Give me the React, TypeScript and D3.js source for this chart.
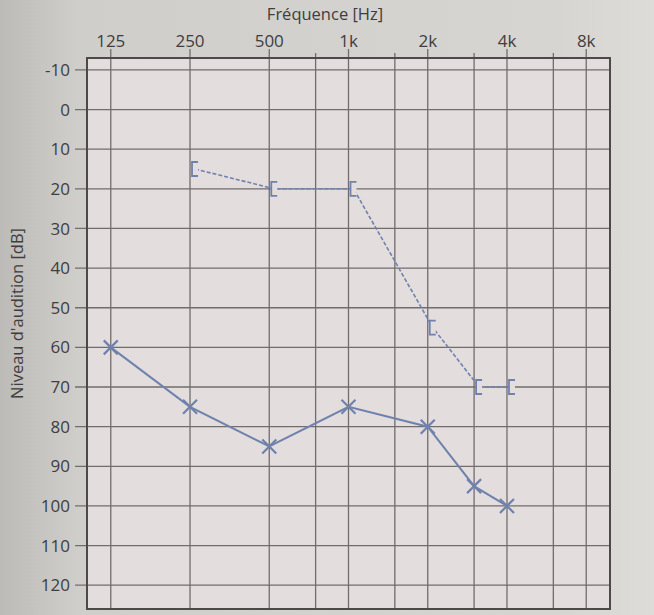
import React from "react";
import * as d3 from "d3";

// audiogram values
const airFreqs = [125, 250, 500, 1000, 2000, 3000, 4000];
const airLevels = [60, 75, 85, 75, 80, 95, 100];
const boneFreqs = [250, 500, 1000, 2000, 3000, 4000];
const boneLevels = [15, 20, 20, 55, 70, 70];

const labelFreqs = [125, 250, 500, 1000, 2000, 4000, 8000];
const labelText = ["125", "250", "500", "1k", "2k", "4k", "8k"];
const halfFreqs = [750, 1500, 3000, 6000];
const levelTicks = d3.range(-10, 121, 10);

const W = 654;
const H = 615;
const left = 87;
const right = 610;
const top = 58;
const bottom = 609;
const lineColor = "#6f82ad";
const gridColor = "#726d6d";
const textColor = "#3f3d3d";
const font = "'Open Sans', 'Noto Sans', sans-serif";

export default function App() {
  const x = d3
    .scaleLog()
    .base(2)
    .domain([125 / Math.pow(2, 0.3), 8000 * Math.pow(2, 0.3)])
    .range([left, right]);
  const y = d3.scaleLinear().domain([-13, 126]).range([top, bottom]);

  const air = airFreqs.map((f, i) => [x(f), y(airLevels[i])] as [number, number]);
  // bone symbols sit just right of the frequency line
  const bone = boneFreqs.map((f, i) => [x(f) + 5, y(boneLevels[i])] as [number, number]);
  const line = d3.line();

  return (
    <div style={{ position: "absolute", left: 0, top: 0 }}>
      <svg width={W} height={H} style={{ display: "block" }}>
        <defs>
          <linearGradient id="paper" x1="0" x2="1" y1="0" y2="0">
            <stop offset="0" stopColor="#bcbbb7" />
            <stop offset="0.12" stopColor="#cfcecb" />
            <stop offset="0.85" stopColor="#d6d5d2" />
            <stop offset="1" stopColor="#dedcd8" />
          </linearGradient>
        </defs>
        <rect width={W} height={H} fill="url(#paper)" />
        <rect x={left} y={top} width={right - left} height={bottom - top} fill="#e3dddd" />

        {/* horizontal grid */}
        {levelTicks.map((v) => (
          <g key={"h" + v}>
            <line x1={left - 12} x2={right} y1={y(v)} y2={y(v)} stroke={gridColor} strokeWidth={1.3} />
            <text
              x={left - 17}
              y={y(v)}
              dy="0.36em"
              textAnchor="end"
              fontSize={17}
              fontFamily={font}
              fill={textColor}
            >
              {v}
            </text>
          </g>
        ))}

        {/* vertical grid */}
        {labelFreqs.map((f, i) => (
          <g key={"v" + f}>
            <line x1={x(f)} x2={x(f)} y1={top - 9} y2={bottom} stroke={gridColor} strokeWidth={1.3} />
            <text x={x(f)} y={top - 11} textAnchor="middle" fontSize={17} fontFamily={font} fill={textColor}>
              {labelText[i]}
            </text>
          </g>
        ))}
        {halfFreqs.map((f) => (
          <line key={"hv" + f} x1={x(f)} x2={x(f)} y1={top - 5} y2={bottom} stroke={gridColor} strokeWidth={1.3} />
        ))}

        <rect
          x={left}
          y={top}
          width={right - left}
          height={bottom - top}
          fill="none"
          stroke="#4d4949"
          strokeWidth={2}
        />

        <text x={325} y={20} textAnchor="middle" fontSize={16.5} fontFamily={font} fill={textColor}>
          Fréquence [Hz]
        </text>
        <text
          transform={`translate(23,${(top + bottom) / 2 - 20}) rotate(-90)`}
          textAnchor="middle"
          fontSize={16.5}
          fontFamily={font}
          fill={textColor}
        >
          Niveau d'audition [dB]
        </text>

        {/* bone conduction, dashed with brackets */}
        <path d={line(bone) || ""} fill="none" stroke={lineColor} strokeWidth={1.6} strokeDasharray="4,2" />
        {bone.map(([bx, by], i) => (
          <path
            key={"b" + i}
            d={`M${bx + 3},${by - 7} H${bx - 3} V${by + 7} H${bx + 3}`}
            fill="#e3dddd"
            stroke={lineColor}
            strokeWidth={1.8}
          />
        ))}

        {/* air conduction, crosses */}
        <path d={line(air) || ""} fill="none" stroke={lineColor} strokeWidth={2} />
        {air.map(([ax, ay], i) => (
          <path
            key={"a" + i}
            d={`M${ax - 7},${ay - 7} L${ax + 7},${ay + 7} M${ax - 7},${ay + 7} L${ax + 7},${ay - 7}`}
            stroke={lineColor}
            strokeWidth={2.2}
          />
        ))}
      </svg>
    </div>
  );
}
